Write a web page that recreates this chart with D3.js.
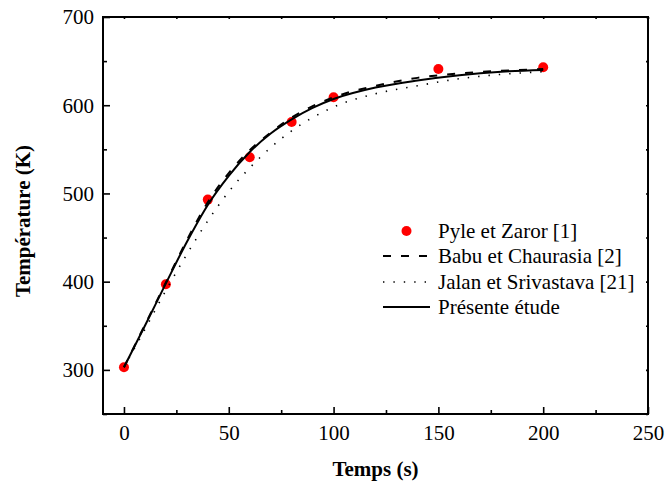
<!DOCTYPE html>
<html>
<head>
<meta charset="utf-8">
<script src="https://cdn.jsdelivr.net/npm/d3@7"></script>
<style>
  body { margin: 0; background: #fff; }
  svg text { font-family: "Times New Roman", Times, "Liberation Serif", serif; }
</style>
</head>
<body>
<div class="chart"></div>
<script>
// values
const PYLE_TIME = [0, 20, 40, 60, 80, 100, 150, 200];
const PYLE_TEMP = [303, 397, 493, 541, 581, 609, 641, 643];

const CURVE_TIME = [0, 10, 20, 30, 40, 50, 60, 70, 80, 90, 100, 120, 140, 160, 180, 200];
const BABU_TEMP  = [303, 351, 399, 447, 490, 523, 549, 569, 586, 599, 609, 622, 631, 636, 639, 641];
const JALAN_TEMP = [303, 346, 390, 431, 469, 502, 529, 552, 571, 586, 598, 613, 622, 630, 635, 638];
const ETUDE_TEMP = [303, 350, 398, 445, 487, 520, 547, 568, 584, 597, 607, 620, 628, 634, 638, 640];

const X_TICKS = [0, 50, 100, 150, 200, 250];
const Y_TICKS = [300, 400, 500, 600, 700];
const LEGEND_LABELS = ["Pyle et Zaror [1]", "Babu et Chaurasia [2]", "Jalan et Srivastava [21]", "Présente étude"];

const WIDTH = 665, HEIGHT = 483;
const LEFT = 103, RIGHT = 648, TOP = 17, BOTTOM = 414;
const FONT = 21;
const SERIF = "'Times New Roman', Times, 'Liberation Serif', serif";

const svg = d3.select(".chart").append("svg")
  .attr("width", WIDTH)
  .attr("height", HEIGHT)
  .attr("font-family", SERIF);

const x = d3.scaleLinear().domain([-10, 250]).range([LEFT, RIGHT]);
const y = d3.scaleLinear().domain([250, 700]).range([BOTTOM, TOP]);

const minorX = d3.range(0, 251, 25).filter(d => d % 50 !== 0);
const minorY = d3.range(250, 701, 50).filter(d => d % 100 !== 0);

// axes: ticks point inward
function axisStyle(g) {
  g.attr("font-family", SERIF).attr("font-size", FONT);
  g.select(".domain").remove();
  g.selectAll("line").attr("stroke", "#000").attr("stroke-width", 1.6);
  g.selectAll("text").attr("fill", "#000");
}

svg.append("g")
  .attr("transform", `translate(0,${BOTTOM})`)
  .call(d3.axisBottom(x).tickValues(X_TICKS).tickSizeInner(-7).tickSizeOuter(0))
  .call(axisStyle)
  .call(g => g.selectAll("text").attr("y", 26).attr("dy", 0));

svg.append("g")
  .attr("transform", `translate(0,${BOTTOM})`)
  .call(d3.axisBottom(x).tickValues(minorX).tickSize(-4).tickFormat(""))
  .call(axisStyle);

svg.append("g")
  .attr("transform", `translate(${LEFT},0)`)
  .call(d3.axisLeft(y).tickValues(Y_TICKS).tickSizeInner(-7).tickSizeOuter(0))
  .call(axisStyle)
  .call(g => g.selectAll("text").attr("x", -9).attr("dy", "0.33em"));

svg.append("g")
  .attr("transform", `translate(${LEFT},0)`)
  .call(d3.axisLeft(y).tickValues(minorY).tickSize(-4).tickFormat(""))
  .call(axisStyle);

// top and right: small inward ticks, no labels
svg.append("g")
  .attr("transform", `translate(0,${TOP})`)
  .call(d3.axisTop(x).tickValues(X_TICKS.concat(minorX)).tickSize(-2).tickFormat(""))
  .call(axisStyle);

svg.append("g")
  .attr("transform", `translate(${RIGHT},0)`)
  .call(d3.axisRight(y).tickValues(Y_TICKS.concat(minorY)).tickSize(-2).tickFormat(""))
  .call(axisStyle);

// frame
svg.append("rect")
  .attr("x", LEFT).attr("y", TOP)
  .attr("width", RIGHT - LEFT).attr("height", BOTTOM - TOP)
  .attr("fill", "none").attr("stroke", "#000").attr("stroke-width", 2);

// axis titles
svg.append("text")
  .attr("x", (LEFT + RIGHT) / 2).attr("y", 476)
  .attr("text-anchor", "middle")
  .attr("font-size", FONT).attr("font-weight", "bold")
  .text("Temps (s)");

svg.append("text")
  .attr("transform", "translate(30,221) rotate(-90)")
  .attr("text-anchor", "middle")
  .attr("font-size", FONT).attr("font-weight", "bold")
  .text("Température (K)");

// curves
const line = d3.line()
  .x(d => x(d[0]))
  .y(d => y(d[1]))
  .curve(d3.curveMonotoneX);

const series = [
  { temps: JALAN_TEMP, width: 1.6, dash: "1.4,9" },
  { temps: BABU_TEMP, width: 2, dash: "8,10" },
  { temps: ETUDE_TEMP, width: 2, dash: null },
];

svg.append("g").attr("class", "dots")
  .selectAll("circle")
  .data(PYLE_TIME.map((t, i) => [t, PYLE_TEMP[i]]))
  .join("circle")
  .attr("cx", d => x(d[0]))
  .attr("cy", d => y(d[1]))
  .attr("r", 5)
  .attr("fill", "#ff0000");

svg.append("g").attr("class", "lines")
  .selectAll("path")
  .data(series)
  .join("path")
  .attr("d", s => line(CURVE_TIME.map((t, i) => [t, s.temps[i]])))
  .attr("fill", "none")
  .attr("stroke", "#000")
  .attr("stroke-width", s => s.width)
  .attr("stroke-dasharray", s => s.dash);

// legend
const legend = svg.append("g").attr("class", "legend");
const rowY = [231, 256, 282, 307];
const symX0 = 383, symX1 = 430, textX = 438;
const legendSeries = [null, series[1], series[0], series[2]];

LEGEND_LABELS.forEach((label, i) => {
  const row = legend.append("g").attr("transform", `translate(0,${rowY[i]})`);
  if (i === 0) {
    row.append("circle").attr("cx", (symX0 + symX1) / 2).attr("cy", 0).attr("r", 5).attr("fill", "#ff0000");
  } else {
    const s = legendSeries[i];
    row.append("line")
      .attr("x1", symX0).attr("x2", symX1)
      .attr("y1", 0).attr("y2", 0)
      .attr("stroke", "#000")
      .attr("stroke-width", s.width)
      .attr("stroke-dasharray", s.dash);
  }
  row.append("text")
    .attr("x", textX).attr("y", 0).attr("dy", "0.33em")
    .attr("font-size", FONT)
    .text(label);
});
</script>
</body>
</html>
